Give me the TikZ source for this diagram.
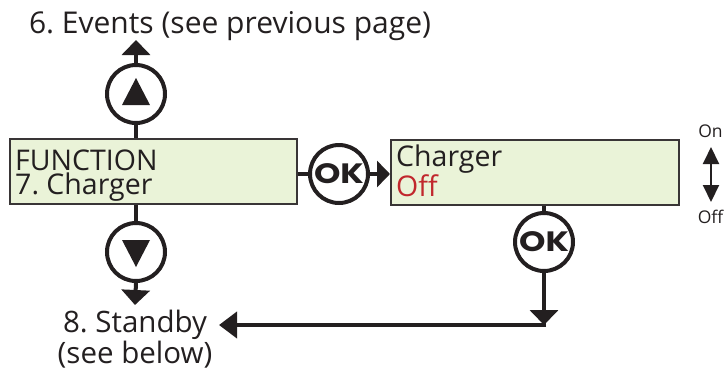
\documentclass[tikz,border=0pt]{standalone}
\usepackage{fontspec}
\setmainfont{Open Sans}
\newfontfamily\okfont{Poppins}[FakeStretch=1.2]
\usetikzlibrary{arrows.meta,calc}
\definecolor{lcdgreen}{HTML}{EAF3D8}
\definecolor{ink}{HTML}{231F20}
\definecolor{offred}{HTML}{C1272D}
\frenchspacing
\begin{document}
\begin{tikzpicture}[x=1pt,y=-1pt,
  conn/.style={draw=ink,line width=4pt},
  tipc/.style={-{Triangle[length=15pt,width=28pt]}},
  keyc/.style={circle,draw=ink,line width=4pt,minimum size=58pt,inner sep=0pt,fill=white},
  lcd/.style={rectangle,draw=ink!90,line width=1.8pt,fill=lcdgreen,minimum height=65pt,inner sep=0pt,anchor=west},
  lbl/.style={text=ink,inner sep=0pt},
  lcdtext/.style={lbl,align=left,anchor=base west,font=\fontsize{28.5}{24}\selectfont},
  oktext/.style={font=\okfont\bfseries\fontsize{28}{28}\selectfont,text=ink}
]
\useasboundingbox (0,0) rectangle (725,373);

% title
\node[lbl,font=\fontsize{30}{30}\selectfont,anchor=base] (title) at (230,33) {6. Events (see previous page)};
\coordinate (evt) at (136,40);

% keys
\node[keyc] (upc) at (136,94) {};
\node[keyc] (dnc) at (136,252) {};
\node[keyc,oktext] (ok1) at (339,174) {OK};
\node[keyc,oktext] (ok2) at (544,242) {OK};

% triangles in keys
\fill[ink] ($(upc.center)+(0,-16)$) -- ($(upc.center)+(14,11)$) -- ($(upc.center)+(-14,11)$) -- cycle;
\fill[ink] ($(dnc.center)+(0,15)$) -- ($(dnc.center)+(14,-12)$) -- ($(dnc.center)+(-14,-12)$) -- cycle;

% LCD boxes
\node[lcd,minimum width=287pt] (box1) at (9,171.5) {};
\node[lcd,minimum width=288pt] (box2) at (390,172.5) {};
\node[lcdtext] (t1) at (15,194) {FUNCTION\\7. Charger};
\node[lcdtext] (t2) at (396,196) {Charger\\\textcolor{offred}{Off}};

% standby
\node[lbl,align=center,font=\fontsize{29.5}{26}\selectfont,anchor=base] (stby) at (135,363) {8. Standby\\(see below)};
\coordinate (stbytop) at (135,305);
\coordinate (corner) at (544,325);
\coordinate (stbyend) at (219,325);

% on/off
\node[lbl,font=\fontsize{17.5}{17.5}\selectfont,anchor=base] (on) at (710.5,137) {On};
\node[lbl,font=\fontsize{17.5}{17.5}\selectfont,anchor=base] (off) at (710.5,223) {Off};
\coordinate (ontip) at (711,147);
\coordinate (offtip) at (711,202);

% connectors
\draw[conn,tipc] (upc.north) -- (evt);
\draw[conn] (upc.south) -- (upc.south |- box1.north);
\draw[conn] (dnc.north) -- (dnc.north |- box1.south);
\draw[conn,tipc] (dnc.south) -- (stbytop);
\draw[conn] (box1.east |- ok1.west) -- (ok1.west);
\draw[conn,-{Triangle[length=13pt,width=26pt]}] (ok1.east) -- (ok1.east -| box2.west);
\draw[conn] (ok2.north) -- (ok2.north |- box2.south);
\draw[conn,tipc] (ok2.south) -- (corner);
\draw[conn,line cap=butt,-{Triangle[length=18pt,width=26pt]}] ($(corner)+(2,0)$) -- (stbyend);
\draw[draw=ink,line width=2pt,{Triangle[length=17pt,width=16pt]}-{Triangle[length=17pt,width=16pt]}] (ontip) -- (offtip);
\end{tikzpicture}
\end{document}
